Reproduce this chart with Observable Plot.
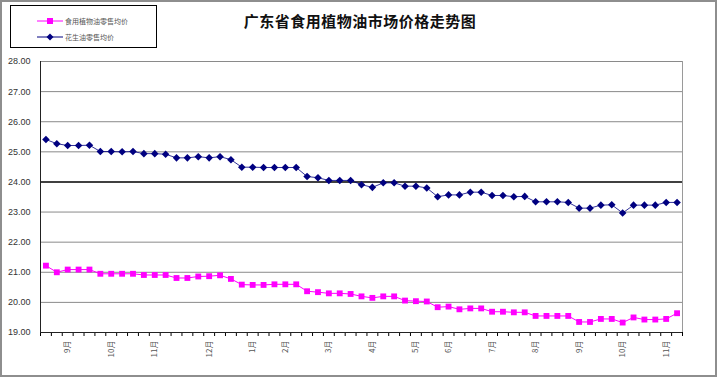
<!DOCTYPE html>
<html><head><meta charset="utf-8">
<script src="https://cdn.jsdelivr.net/npm/d3@7"></script>
<script src="https://cdn.jsdelivr.net/npm/@observablehq/plot@0.6"></script>
<style>
body{margin:0;background:#fff;}
#wrap{position:relative;width:720px;height:385px;overflow:hidden;background:#fff;}
#frame{position:absolute;left:0;top:0;width:713px;height:373px;border:2px solid #8e8e8e;pointer-events:none;}
#title{position:absolute;left:0;width:720px;top:10px;text-align:center;font-family:"Noto Sans CJK SC",sans-serif;font-weight:bold;font-size:15px;color:#111;letter-spacing:0.5px;}
#legend{position:absolute;left:10px;top:5px;width:145px;height:41px;border:1px solid #000;background:#fff;font-family:"Noto Sans CJK SC",sans-serif;font-size:7px;color:#555;}
.li{position:absolute;left:26px;display:flex;align-items:center;height:10px;}
.li svg{display:block;margin-right:2px;}
#chart{position:absolute;left:0;top:0;}
</style></head>
<body>
<div id="wrap">
  <div id="chart"></div>
  <div id="title"></div>
  <div id="legend"></div>
  <div id="frame"></div>
</div>
<script>
const chartTitle = "广东省食用植物油市场价格走势图";
const seriesNames = ["食用植物油零售均价", "花生油零售均价"];
const seriesColors = ["#ff00ff", "#000080"];
const weekLabels = ["", "", "9月", "", "", "", "10月", "", "", "", "11月", "", "", "", "", "12月", "", "", "", "1月", "", "", "2月", "", "", "", "3月", "", "", "", "4月", "", "", "", "5月", "", "", "6月", "", "", "", "7月", "", "", "", "8月", "", "", "", "9月", "", "", "", "10月", "", "", "", "11月", ""];
const edibleOil = [21.22, 21.00, 21.09, 21.09, 21.09, 20.95, 20.95, 20.95, 20.95, 20.91, 20.91, 20.91, 20.81, 20.81, 20.86, 20.87, 20.90, 20.78, 20.59, 20.58, 20.58, 20.60, 20.60, 20.60, 20.37, 20.34, 20.30, 20.30, 20.28, 20.20, 20.15, 20.20, 20.20, 20.06, 20.04, 20.03, 19.84, 19.86, 19.77, 19.80, 19.80, 19.69, 19.69, 19.67, 19.67, 19.55, 19.55, 19.55, 19.55, 19.35, 19.35, 19.45, 19.45, 19.33, 19.50, 19.43, 19.43, 19.45, 19.64];
const peanutOil = [25.41, 25.27, 25.21, 25.21, 25.22, 25.01, 25.01, 25.00, 25.01, 24.94, 24.94, 24.92, 24.80, 24.80, 24.84, 24.80, 24.84, 24.74, 24.49, 24.49, 24.48, 24.48, 24.48, 24.48, 24.18, 24.14, 24.05, 24.05, 24.05, 23.91, 23.82, 23.97, 23.97, 23.86, 23.86, 23.80, 23.51, 23.57, 23.57, 23.66, 23.66, 23.55, 23.55, 23.51, 23.52, 23.34, 23.34, 23.34, 23.32, 23.13, 23.13, 23.23, 23.24, 22.97, 23.23, 23.23, 23.23, 23.32, 23.32];
const yTicks = [19, 20, 21, 22, 23, 24, 25, 26, 27, 28];
const emphasisY = 24;

const idx = weekLabels.map((_, i) => i);
const boundaries = weekLabels.map((_, i) => i - 0.5).concat([weekLabels.length - 0.5]);
const labelIdx = idx.filter(i => weekLabels[i] !== "");

const chart = Plot.plot({
  width: 720, height: 385,
  marginLeft: 40, marginRight: 38, marginTop: 61, marginBottom: 53,
  style: {background: "transparent", fontFamily: "Liberation Sans, sans-serif"},
  x: {type: "linear", domain: [-0.5, weekLabels.length - 0.5], axis: null},
  y: {domain: [19, 28], axis: null},
  marks: [
    Plot.frame({stroke: "#9a9a9a"}),
    Plot.ruleY(yTicks.filter(d => d !== emphasisY), {stroke: "#8a8a8a", strokeWidth: 1}),
    Plot.ruleY([emphasisY], {stroke: "#000", strokeWidth: 1.6}),
    Plot.axisY(yTicks, {tickFormat: d => d.toFixed(2), tickSize: 0, tickPadding: 10, fontSize: 9, fill: "#333", anchor: "left"}),
    Plot.axisX(boundaries, {tickFormat: () => "", tickSize: 4, stroke: "#000", anchor: "bottom"}),
    Plot.axisX(labelIdx, {tickFormat: i => weekLabels[i], tickSize: 0, tickRotate: -90, tickPadding: 8, fontSize: 8, fill: "#555", anchor: "bottom", fontFamily: "Noto Sans CJK SC, sans-serif"}),
    Plot.ruleX([-0.5], {stroke: "#222"}),
    Plot.ruleY([19], {stroke: "#222"}),
    Plot.line(edibleOil, {x: (d, i) => i, y: d => d, stroke: seriesColors[0], strokeWidth: 1}),
    Plot.dot(edibleOil, {x: (d, i) => i, y: d => d, symbol: "square", r: 3.3, fill: seriesColors[0], stroke: "none"}),
    Plot.line(peanutOil, {x: (d, i) => i, y: d => d, stroke: seriesColors[1], strokeWidth: 1, strokeOpacity: 0.8}),
    Plot.dot(peanutOil, {x: (d, i) => i, y: d => d, symbol: "diamond2", r: 3.4, fill: seriesColors[1], stroke: "none"})
  ]
});
document.getElementById("chart").appendChild(chart);
document.getElementById("title").textContent = chartTitle;

const legend = document.getElementById("legend");
const symbols = [
  '<rect x="10" y="2" width="6" height="6" fill="' + seriesColors[0] + '"/>',
  '<path d="M13 1.5 L16.5 5 L13 8.5 L9.5 5 Z" fill="' + seriesColors[1] + '"/>'
];
seriesNames.forEach((name, k) => {
  const div = document.createElement("div");
  div.className = "li";
  div.style.top = (k === 0 ? 10 : 26) + "px";
  div.innerHTML = '<svg width="26" height="10"><line x1="0" y1="5" x2="26" y2="5" stroke="' + seriesColors[k] + '" stroke-width="1"/>' + symbols[k] + '</svg><span>' + name + '</span>';
  legend.appendChild(div);
});
</script>
</body></html>
